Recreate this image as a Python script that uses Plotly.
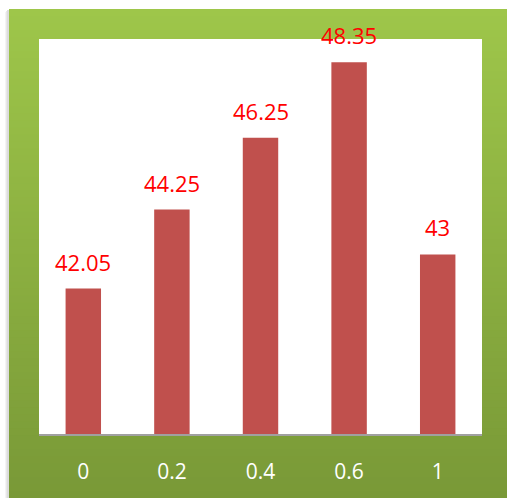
import plotly.graph_objects as go

# Data
categories = ["0", "0.2", "0.4", "0.6", "1"]
values = [42.05, 44.25, 46.25, 48.35, 43]
value_labels = ["42.05", "44.25", "46.25", "48.35", "43"]

W, H = 507, 498
L, R, T, B = 39, 25, 39, 64
pw, ph = W - L - R, H - T - B

def px_to_paper_x(px):
    return (px - L) / pw

def px_to_paper_y(py):
    return (H - B - py) / ph

fig = go.Figure()
fig.add_trace(go.Bar(
    x=categories,
    y=values,
    marker=dict(color="#C0504D", line=dict(width=0)),
    width=0.4,
    hoverinfo="skip",
))

# Value labels above each bar (category index used as x position)
for i, (v, t) in enumerate(zip(values, value_labels)):
    fig.add_annotation(
        x=i, y=v, text=t, showarrow=False, yanchor="bottom", yshift=10,
        font=dict(family="Open Sans", size=22, color="#FF0000"),
    )

shapes = []
# soft shadow on the left edge of the green frame
for i, col in enumerate(["#F4F4F4", "#E8E8E8", "#DCDCDC"]):
    shapes.append(dict(
        type="rect", xref="paper", yref="paper", layer="below",
        x0=px_to_paper_x(5 + i), x1=px_to_paper_x(9),
        y0=px_to_paper_y(H), y1=px_to_paper_y(9 + 3 - i),
        fillcolor=col, line=dict(width=0),
    ))
# vertical green gradient frame
top_c = (158, 198, 74)
bot_c = (121, 153, 55)
n = 70
y_top, y_bot = 9, H
for i in range(n):
    f = i / (n - 1)
    col = tuple(round(a + (b - a) * f) for a, b in zip(top_c, bot_c))
    ya = y_top + (y_bot - y_top) * i / n
    yb = ya + (y_bot - y_top) / n + 3
    shapes.append(dict(
        type="rect", xref="paper", yref="paper", layer="below",
        x0=px_to_paper_x(9), x1=px_to_paper_x(W + 2),
        y0=px_to_paper_y(min(yb, H + 2)), y1=px_to_paper_y(ya),
        fillcolor="rgb(%d,%d,%d)" % col, line=dict(width=0),
    ))
# white plotting area
shapes.append(dict(
    type="rect", xref="paper", yref="paper", layer="below",
    x0=0, x1=1, y0=0, y1=1, fillcolor="white", line=dict(width=0),
))

fig.update_layout(
    width=W, height=H,
    margin=dict(l=L, r=R, t=T, b=B),
    paper_bgcolor="white",
    plot_bgcolor="white",
    shapes=shapes,
    showlegend=False,
    bargap=0.6,
    xaxis=dict(
        showgrid=False, zeroline=False, ticks="",
        showline=True, linecolor="#A0A0A0", linewidth=2,
        tickfont=dict(family="Open Sans", size=21, color="white"),
        ticklabelstandoff=18,
    ),
    yaxis=dict(
        range=[38, 49], showgrid=False, zeroline=False,
        showticklabels=False, ticks="", showline=False,
    ),
)

fig.write_html("out.html")
